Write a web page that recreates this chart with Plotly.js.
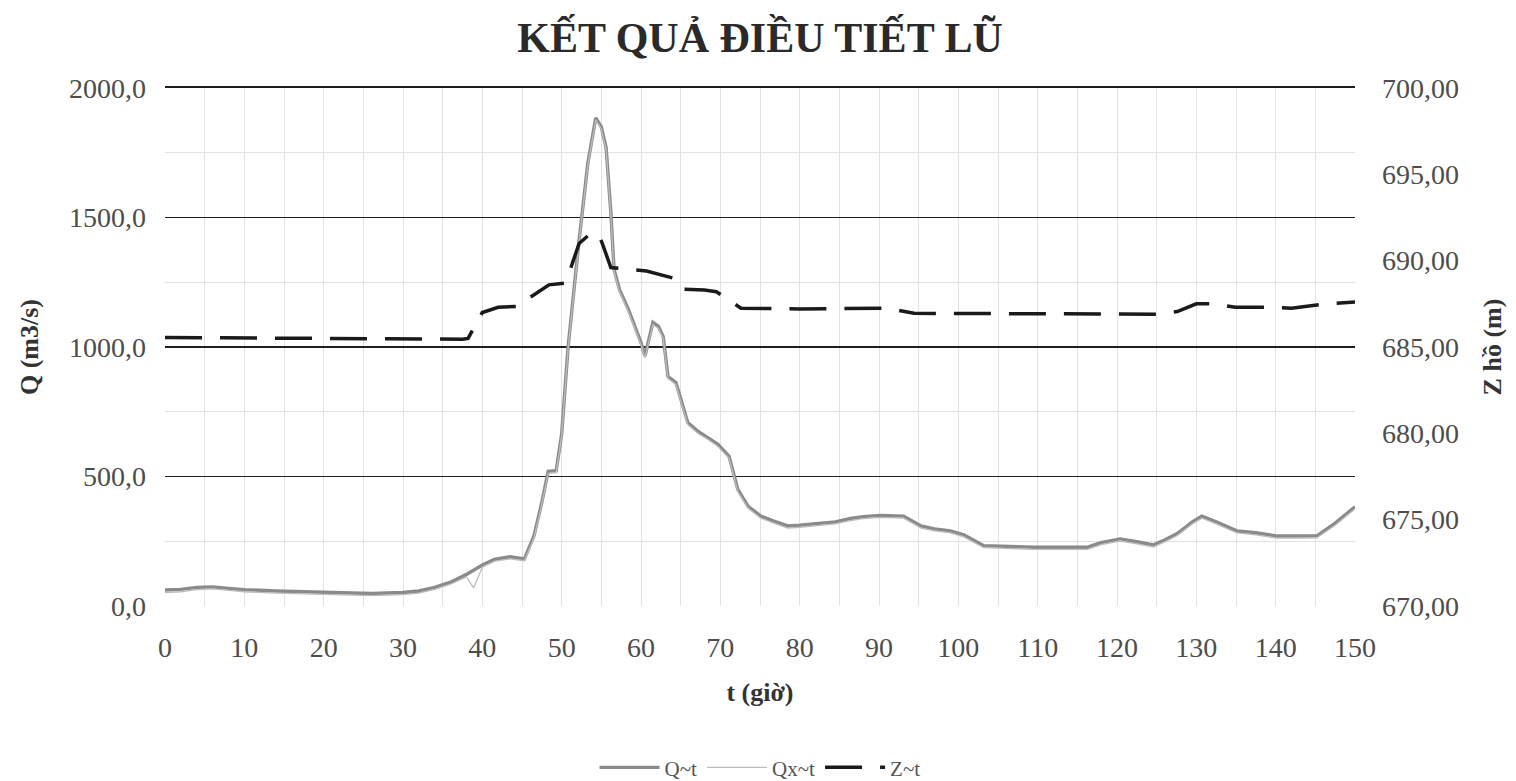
<!DOCTYPE html>
<html>
<head>
<meta charset="utf-8">
<script src="https://cdn.plot.ly/plotly-3.0.1.min.js"></script>
<style>html,body{margin:0;padding:0;background:#fff;}#chart{width:1516px;height:781px;}</style>
</head>
<body>
<div id="chart"></div>
<script>
// Time (hours) for discharge series
const tQ = [0, 2, 4, 6, 8, 10, 14, 18, 22, 26, 30, 32, 34, 36, 38, 38.9, 40, 41.5, 43.5, 45.3, 46.5, 47.5, 48.3, 49.3, 50, 50.8, 52.1, 53.3, 54.3, 55, 55.6, 56.2, 56.6, 57.3, 58.4, 60, 60.5, 61.5, 62.2, 62.8, 63.4, 64.4, 65.9, 67.2, 68.5, 69.7, 71.1, 72.2, 73.5, 75.1, 77, 78.5, 80, 82.3, 84.5, 86.4, 88, 90.2, 93.1, 95.3, 97, 99, 100.7, 103.2, 106, 109.5, 113, 116.3, 118, 120.4, 122.5, 124.6, 126, 127.6, 129.5, 130.7, 132.5, 135.1, 137.5, 140.2, 143, 145.2, 147.5, 150];
// Inflow Q~t (m3/s)
const Q = [62, 64, 72, 74, 68, 63, 58, 54, 50, 48, 52, 58, 72, 92, 122, 138, 158, 180, 190, 182, 270, 400, 520, 522, 664, 997, 1385, 1710, 1885, 1850, 1770, 1520, 1300, 1220, 1146, 1017, 965, 1095, 1080, 1040, 886, 863, 708, 674, 650, 624, 578, 450, 385, 347, 325, 309, 312, 318, 325, 338, 345, 350, 347, 309, 298, 290, 275, 233, 230, 227, 227, 227, 245, 259, 248, 236, 255, 280, 325, 347, 325, 290, 283, 270, 270, 271, 320, 383];
// Outflow Qx~t (m3/s)
const Qx = [52, 55, 63, 66, 60, 55, 50, 46, 42, 40, 44, 50, 64, 84, 112, 70, 150, 172, 182, 175, 262, 392, 512, 515, 656, 990, 1378, 1702, 1877, 1842, 1762, 1512, 1292, 1212, 1138, 1009, 958, 1087, 1072, 1032, 878, 855, 700, 666, 642, 616, 570, 442, 377, 339, 317, 301, 304, 310, 317, 330, 337, 342, 339, 301, 290, 282, 267, 225, 222, 219, 219, 219, 237, 251, 240, 228, 247, 272, 317, 339, 317, 282, 275, 262, 262, 263, 312, 375];
// Time (hours) for reservoir level
const tZ = [0, 37.5, 38.2, 40, 42, 44.5, 45.8, 48.4, 50.5, 51.2, 52.2, 53.7, 54.7, 55.2, 56.2, 60.7, 62.9, 64, 65, 68, 69.5, 72.6, 80, 88, 91, 94.4, 105, 113, 125, 127.6, 130, 132, 134.9, 139, 142, 146.5, 150];
// Reservoir level Z~t (m)
const Z = [685.55, 685.45, 685.5, 687.0, 687.3, 687.35, 687.8, 688.6, 688.7, 689.7, 691.0, 691.6, 691.5, 690.9, 689.6, 689.4, 689.1, 689.0, 688.35, 688.3, 688.2, 687.25, 687.2, 687.2, 687.25, 686.95, 686.95, 686.95, 686.9, 687.05, 687.5, 687.5, 687.3, 687.3, 687.25, 687.5, 687.6];

const xTicks = [0, 10, 20, 30, 40, 50, 60, 70, 80, 90, 100, 110, 120, 130, 140, 150];
const qTicks = [0, 500, 1000, 1500, 2000];
const qMajorLines = [500, 1000, 1500, 2000];
const zTicks = [670, 675, 680, 685, 690, 695, 700];

const SERIF = '"Liberation Serif", "DejaVu Serif", serif';

const traces = [
  {x: tQ, y: Q, name: 'Q~t', type: 'scatter', mode: 'lines', yaxis: 'y',
   line: {color: '#8a8a8a', width: 3.4}},
  {x: tQ, y: Qx, name: 'Qx~t', type: 'scatter', mode: 'lines', yaxis: 'y',
   line: {color: '#bdbdbd', width: 1.3}},
  {x: tZ, y: Z, name: 'Z~t', type: 'scatter', mode: 'lines', yaxis: 'y2',
   line: {color: '#1a1a1a', width: 3.5, dash: '37px,18px'}},
  // helper traces to activate the overlay axes (no visible marks)
  {x: [null], y: [null], yaxis: 'y3', type: 'scatter', mode: 'lines', showlegend: false, hoverinfo: 'skip'},
  {x: [null], y: [null], xaxis: 'x2', yaxis: 'y3', type: 'scatter', mode: 'lines', showlegend: false, hoverinfo: 'skip'}
];

const tickFont = {family: SERIF, size: 28, color: '#4d4d4d'};
const titleFont = {family: SERIF, size: 26, color: '#333'};

const layout = {
  width: 1516, height: 781,
  margin: {l: 165, r: 161, t: 88, b: 175, autoexpand: false},
  paper_bgcolor: '#fff', plot_bgcolor: '#fff',
  separators: ',.',
  showlegend: true,
  title: {text: '<b>KẾT QUẢ ĐIỀU TIẾT LŨ</b>', font: {family: SERIF, size: 42, color: '#2a2a2a'},
          x: 0.5, xref: 'paper', xanchor: 'center', y: 0.952, yref: 'container', yanchor: 'middle'},
  xaxis: {
    range: [0, 150], tickmode: 'array', tickvals: xTicks, ticktext: xTicks.map(String),
    showgrid: true, gridcolor: '#e2e2e2', gridwidth: 1,
    minor: {dtick: 5, tick0: 0, showgrid: true, gridcolor: '#e2e2e2', gridwidth: 1},
    zeroline: false, showline: false, ticks: '', ticklabelstandoff: 22,
    tickfont: tickFont, automargin: false,
    title: {text: '<b>t (giờ)</b>', font: titleFont, standoff: 20}
  },
  xaxis2: {
    overlaying: 'x', side: 'top', range: [0, 150], showticklabels: false, showgrid: false,
    zeroline: false, showline: true, linecolor: '#1e1e1e', linewidth: 1.8, ticks: '', automargin: false
  },
  yaxis: {
    range: [0, 2000], tickmode: 'array', tickvals: qTicks, tickformat: '.1f',
    showgrid: false,
    minor: {dtick: 250, tick0: 0, showgrid: true, gridcolor: '#e2e2e2', gridwidth: 1},
    zeroline: false, showline: false, ticks: '', ticklabelstandoff: 18,
    tickfont: tickFont, automargin: false,
    title: {text: '<b>Q (m3/s)</b>', font: titleFont, standoff: 22}
  },
  yaxis3: {
    overlaying: 'y', range: [0, 2000], tickmode: 'array', tickvals: qMajorLines,
    showticklabels: false, showgrid: true, gridcolor: '#1e1e1e', gridwidth: 1.8,
    zeroline: false, showline: false, ticks: '', side: 'left', automargin: false
  },
  yaxis2: {
    overlaying: 'y', side: 'right', range: [670, 700], tickmode: 'array', tickvals: zTicks,
    tickformat: '.2f', showgrid: false, zeroline: false, showline: false, ticks: '',
    ticklabelstandoff: 26, tickfont: tickFont, automargin: false,
    title: {text: '<b>Z hồ (m)</b>', font: titleFont, standoff: 24}
  },
  legend: {
    orientation: 'h', x: 0.5, xanchor: 'center', xref: 'paper',
    y: 0.017, yref: 'container', yanchor: 'middle',
    font: {family: SERIF, size: 21, color: '#555'}, bgcolor: 'rgba(0,0,0,0)',
    itemwidth: 60, tracegroupgap: 0
  }
};

Plotly.newPlot('chart', traces, layout, {displayModeBar: false, staticPlot: true});
</script>
</body>
</html>
